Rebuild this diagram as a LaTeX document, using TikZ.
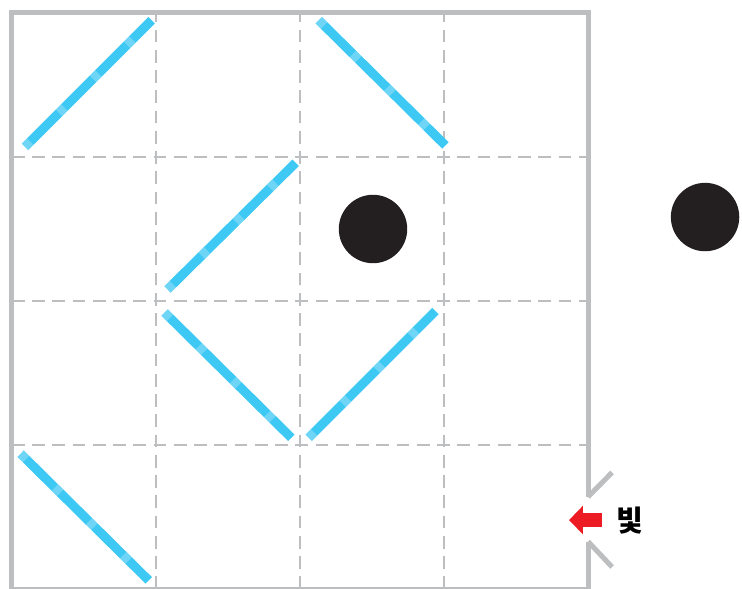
\documentclass[tikz,border=0pt]{standalone}
\usepackage{fontspec}
\newfontfamily\krfont{Noto Sans CJK KR}
\usetikzlibrary{arrows.meta,positioning}

\definecolor{wallgray}{HTML}{BCBEC0}
\definecolor{mirrorblue}{HTML}{3EC8F4}
\definecolor{beamred}{HTML}{ED1C24}
\definecolor{balldark}{HTML}{231F20}

\tikzset{
  wall/.style={wallgray, line width=2pt},
  gridline/.style={wallgray, line width=1.05pt, dash pattern=on 5pt off 3pt},
  mirror/.style={mirrorblue, line width=3.6pt,
    postaction={draw, white, opacity=0.25, line width=3.6pt, dash pattern=on 3pt off 16pt}},
  ball/.style={circle, fill=balldark, inner sep=0pt, minimum size=0.95cm},
  beam/.style={beamred, line width=5.5pt, -{Triangle[length=5.5pt, width=11pt]}},
}

\begin{document}
\begin{tikzpicture}[x=2cm, y=2cm]
  \useasboundingbox (-0.083,0.007) rectangle (5.069,4.09);

  % 격자
  \foreach \i in {1,2,3} {
    \draw[gridline] (\i,0) -- (\i,4);
    \draw[gridline] (0,\i) -- (4,\i);
  }

  % 상자 벽 (오른쪽 아래에 구멍)
  \draw[wall] (4,0.64) -- (4,4) -- (0,4) -- (0,0) -- (4,0) -- (4,0.33);
  \draw[wall] (4,0.64) -- (4.167,0.81);
  \draw[wall] (4,0.33) -- (4.167,0.153);

  % 거울
  \draw[mirror] (0.09,3.07) -- (0.97,3.95);
  \draw[mirror] (2.13,3.95) -- (3.01,3.08);
  \draw[mirror] (1.08,2.08) -- (1.97,2.96);
  \draw[mirror] (1.06,1.92) -- (1.94,1.05);
  \draw[mirror] (2.06,1.05) -- (2.94,1.93);
  \draw[mirror] (0.06,0.94) -- (0.95,0.06);

  % 공
  \node[ball] (ballin) at (2.507,2.5) {};
  \node[ball] (ballout) at (4.8125,2.583) {};

  % 빛
  \coordinate (beamtail) at (4.097,0.479);
  \coordinate (beamtip) at (3.868,0.479);
  \draw[beam] (beamtail) -- (beamtip);
  \node[right=0.19cm of beamtail, inner sep=0pt,
        font=\krfont\bfseries\fontsize{11.5}{12}\selectfont] (light) {빛};
\end{tikzpicture}
\end{document}
